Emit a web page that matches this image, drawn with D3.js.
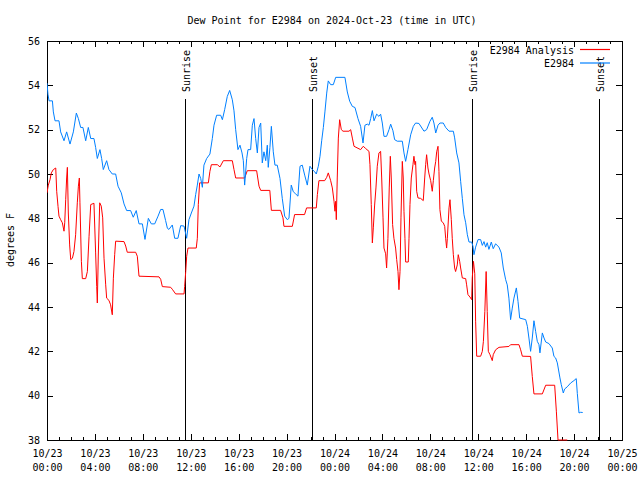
<!DOCTYPE html>
<html>
<head>
<meta charset="utf-8">
<script src="https://cdn.jsdelivr.net/npm/d3@7"></script>
<style>
  html, body { margin: 0; padding: 0; background: #fff; }
  svg { display: block; }
  text { font-family: "DejaVu Sans Mono", monospace; font-size: 10px; fill: #000; }
</style>
</head>
<body>
<script>
// ---- data (hours after 2024-10-23 00:00 UTC, dew point in F) ----
const obsHours = [0.0,0.08,0.17,0.45,0.53,0.67,1.0,1.14,1.42,1.64,1.92,2.2,2.45,2.62,2.81,3.0,3.23,3.45,3.65,3.92,4.06,4.2,4.42,4.56,4.7,4.98,5.17,5.45,5.73,5.93,6.2,6.43,6.65,6.98,7.2,7.45,7.68,7.96,8.18,8.46,8.71,8.99,9.27,9.49,9.68,9.9,
  10.05,10.18,10.46,10.66,10.93,11.16,11.44,11.66,11.85,12.05,12.27,12.41,12.55,12.69,12.83,12.97,13.1,13.33,13.6,13.8,13.94,14.16,14.5,14.64,14.83,15.05,15.25,15.47,15.61,15.75,15.94,16.11,16.28,16.39,16.5,16.67,16.78,17.0,17.14,17.28,17.42,17.56,17.7,17.84,17.97,18.11,18.26,18.39,18.47,18.61,18.73,18.89,19.03,19.22,19.45,19.64,19.84,20.06,
  20.2,20.39,20.56,20.76,20.95,21.12,21.31,21.51,21.73,21.95,22.15,22.35,22.48,22.65,22.79,22.93,23.07,23.2,23.35,23.48,23.68,23.9,24.1,24.87,25.07,25.27,25.49,25.71,25.96,26.18,26.38,26.54,26.74,26.88,27.02,27.16,27.3,27.52,27.71,27.85,27.99,28.13,28.35,28.55,28.69,28.88,29.02,29.24,29.66,29.8,29.94,
  30.13,30.36,30.58,30.77,31.05,31.47,31.69,31.97,32.16,32.3,32.45,32.64,32.8,33.08,33.28,33.56,33.92,34.03,34.2,34.39,34.53,34.67,34.81,34.95,35.09,35.23,35.45,35.56,35.64,35.78,35.98,36.2,36.34,36.48,36.62,36.75,36.89,37.09,37.25,37.45,37.73,37.92,38.09,38.29,38.42,38.56,38.7,38.84,38.98,39.18,39.32,39.46,39.96,
  40.1,40.23,40.37,40.51,40.65,40.79,40.93,41.07,41.15,41.35,41.49,41.63,41.9,42.18,42.32,42.46,42.6,42.82,42.93,43.1,43.21,43.43,43.71,43.99,44.18,44.27,44.41,44.55,44.72];
const obsDew = [54.1,53.6,53.3,53.3,52.8,52.4,52.4,51.9,51.5,51.9,51.35,51.9,52.75,52.5,52.1,52.1,51.5,52.1,51.6,51.6,51.2,50.7,51.1,50.7,50.2,50.6,50.2,50.0,50.0,49.45,49.15,48.65,48.35,48.35,48.05,48.35,47.75,47.75,47.05,48.0,47.75,47.75,48.1,48.4,48.4,47.9,
  47.55,47.5,47.7,47.1,47.1,47.67,47.65,47.1,47.94,48.24,48.55,49.07,49.5,50.0,49.8,49.4,50.4,50.7,50.9,51.6,52.2,52.65,52.65,52.45,52.9,53.5,53.77,53.35,52.85,52.0,51.1,51.3,50.95,50.6,49.5,50.7,51.1,51.1,52.2,52.5,51.6,50.95,52.1,52.3,50.5,51.0,50.6,51.3,50.3,51.2,52.15,51.0,50.4,50.4,49.8,48.9,48.1,47.94,
  48.0,49.5,49.2,49.1,49.0,50.35,50.4,49.95,49.5,50.35,50.2,50.1,50.0,50.35,50.8,51.5,52.1,52.8,53.65,54.2,54.03,54.03,54.36,54.36,53.7,53.28,53.05,53.0,52.5,52.15,51.4,52.2,52.25,52.2,52.5,52.86,52.4,52.7,52.6,52.7,52.3,51.7,51.7,52.0,52.25,51.95,51.55,51.48,51.48,50.95,50.57,
  51.1,51.77,52.15,52.3,52.28,51.93,52.0,52.38,52.56,52.3,51.85,52.2,52.3,52.3,52.1,51.93,51.93,51.63,50.95,50.5,49.67,48.9,48.16,47.8,47.26,46.93,46.93,46.74,46.36,46.7,47.04,47.04,46.78,46.95,46.7,46.9,46.6,46.93,46.63,46.85,46.7,46.44,45.76,45.23,45.0,44.4,43.43,43.95,44.4,44.86,44.25,43.5,43.43,
  43.13,42.6,42.0,42.6,43.38,42.9,42.45,42.3,41.93,42.83,42.6,42.42,42.35,42.15,41.77,41.7,41.48,40.8,40.5,40.12,40.3,40.4,40.57,40.68,40.77,40.1,39.22,39.25,39.24];

const anaHours = [0.0,0.11,0.25,0.36,0.53,0.73,0.81,0.92,1.0,1.14,1.28,1.42,1.48,1.56,1.64,1.7,1.78,1.89,1.98,2.12,2.25,2.39,2.53,2.62,2.7,2.75,2.87,2.95,3.23,3.37,3.51,3.65,3.92,4.06,4.15,4.2,4.28,4.4,4.53,4.65,4.76,4.9,4.98,5.17,5.31,5.45,5.54,5.65,5.73,6.43,6.57,6.7,7.4,7.54,7.68,9.35,9.49,9.63,
  10.32,10.46,10.74,11.44,11.49,11.58,11.66,11.77,12.46,12.55,12.63,12.74,13.47,13.6,13.72,14.22,14.44,14.72,15.47,15.61,15.75,16.5,16.72,17.5,17.7,17.84,18.6,18.73,19.5,19.7,19.78,
  20.48,20.67,21.5,21.67,22.48,22.57,22.7,23.18,23.35,23.48,23.68,23.82,23.96,24.04,24.1,24.15,24.23,24.32,24.43,24.57,24.71,25.21,25.35,25.49,25.63,26.18,26.4,26.6,26.88,26.96,27.07,27.16,27.24,27.35,27.46,27.57,27.71,27.85,27.94,28.05,28.13,28.27,28.35,28.46,28.57,28.66,28.74,28.85,28.96,29.1,29.19,29.3,29.38,29.47,29.55,29.66,29.74,
  29.8,29.88,29.94,30.16,30.22,30.3,30.41,30.55,30.63,30.72,30.77,30.86,30.97,31.19,31.41,31.53,31.61,31.69,31.8,31.89,32.03,32.16,32.25,32.36,32.45,32.53,32.64,32.72,32.8,32.92,33.08,33.2,33.28,33.36,33.42,33.56,33.64,33.75,33.83,33.92,34.03,34.11,34.25,34.33,34.45,34.53,34.67,34.95,35.03,35.14,35.31,35.45,35.5,35.6,35.71,35.78,35.87,36.2,36.34,36.43,36.55,36.66,36.75,36.84,36.98,37.17,37.25,37.45,37.73,38.56,38.7,39.4,39.54,39.68,
  40.37,40.51,40.65,41.35,41.63,42.38,42.52,42.66,43.43];
const anaDew = [49.15,49.5,49.74,50.05,50.2,50.27,49.22,48.54,48.1,47.94,47.8,47.42,47.8,48.84,49.82,50.3,48.24,46.8,46.14,46.2,46.5,47.26,48.7,49.45,49.82,48.7,46.06,45.28,45.28,45.6,47.19,48.62,48.68,46.44,44.93,44.18,46.3,48.7,48.55,48.02,46.2,45.0,44.4,44.3,44.1,43.65,45.3,46.36,46.97,46.95,46.75,46.47,46.47,46.29,45.39,45.36,45.25,44.92,
  44.89,44.8,44.59,44.59,44.93,45.6,46.29,46.66,46.66,47.1,48.62,49.6,49.6,50.12,50.42,50.42,50.32,50.6,50.6,50.2,49.82,49.82,50.15,50.15,49.45,49.26,49.26,48.36,48.36,48.02,47.64,
  47.64,48.17,48.17,48.47,48.47,49.07,49.7,49.7,49.85,50.05,49.7,49.37,48.77,48.32,48.77,47.94,49.82,51.62,52.45,52.0,51.93,51.93,52.0,51.62,51.25,51.1,51.25,51.15,51.02,50.42,48.62,46.89,47.57,48.6,49.37,50.35,50.95,51.02,49.82,48.02,46.66,46.4,45.76,47.1,49.37,50.8,49.82,47.72,47.1,46.66,46.14,45.6,44.78,45.6,48.02,50.57,49.82,
  48.32,47.1,46.03,46.03,47.1,48.62,49.82,50.42,50.8,50.42,50.57,49.22,48.92,48.9,48.8,49.82,50.42,50.87,50.27,50.0,49.7,49.22,49.7,50.27,50.57,51.0,51.25,50.12,48.39,47.87,47.8,47.64,47.1,46.66,47.1,48.47,48.84,47.94,47.1,46.36,45.76,45.6,45.9,46.36,46.06,45.76,45.31,45.28,45.0,44.56,44.45,44.33,45.31,46.06,45.5,43.36,41.78,41.78,42.0,42.45,43.8,45.6,43.8,42.0,41.85,41.58,41.85,42.07,42.18,42.22,42.3,42.3,42.07,41.78,
  41.77,40.87,40.08,40.08,40.47,40.47,39.3,38.0,38.0];

const sunEventHours = [11.48, 22.15, 35.5, 46.12];
const sunEventNames = ["Sunrise", "Sunset", "Sunrise", "Sunset"];
const yTickValues = [38, 40, 42, 44, 46, 48, 50, 52, 54, 56];
const seriesNames = ["E2984 Analysis", "E2984"];
const seriesColors = ["#ff0000", "#0080ff"];
const titleText = "Dew Point for E2984 on 2024-Oct-23 (time in UTC)";
const yLabelText = "degrees F";

// ---- chart ----
const W = 640, H = 480, L = 47, R = 622, T = 41, B = 440;
const t0 = Date.UTC(2024, 9, 23, 0, 0);
const hr = h => new Date(t0 + h * 3600e3);

const x = d3.scaleUtc().domain([hr(0), hr(48)]).range([L, R]);
const y = d3.scaleLinear().domain([38, 56]).range([B, T]);

const svg = d3.select("body").append("svg").attr("width", W).attr("height", H);
svg.append("rect").attr("width", W).attr("height", H).attr("fill", "#fff");

function styleAxis(g) {
  g.select(".domain").remove();
  g.attr("font-family", null).attr("font-size", null);
  g.selectAll("line").attr("stroke", "#000").attr("shape-rendering", "crispEdges");
}

// minor x ticks
svg.append("g").attr("transform", `translate(0,${B})`)
  .call(d3.axisBottom(x).ticks(d3.utcHour.every(1)).tickSize(-3).tickFormat(""))
  .call(styleAxis);
svg.append("g").attr("transform", `translate(0,${T})`)
  .call(d3.axisTop(x).ticks(d3.utcHour.every(1)).tickSize(-3).tickFormat(""))
  .call(styleAxis);
// major x ticks
const xb = svg.append("g").attr("transform", `translate(0,${B})`)
  .call(d3.axisBottom(x).ticks(d3.utcHour.every(4)).tickSize(-6).tickFormat(""))
  .call(styleAxis);
svg.append("g").attr("transform", `translate(0,${T})`)
  .call(d3.axisTop(x).ticks(d3.utcHour.every(4)).tickSize(-6).tickFormat(""))
  .call(styleAxis);
xb.selectAll(".tick text").remove();
xb.selectAll(".tick").each(function(d) {
  const t = d3.select(this).append("text").attr("text-anchor", "middle");
  t.append("tspan").attr("x", 0).attr("y", 17).text(d3.utcFormat("%m/%d")(d));
  t.append("tspan").attr("x", 0).attr("y", 31).text(d3.utcFormat("%H:%M")(d));
});

// y ticks
svg.append("g").attr("transform", `translate(${L},0)`)
  .call(d3.axisLeft(y).tickValues(yTickValues).tickSize(-6).tickPadding(7).tickFormat(d3.format("d")))
  .call(styleAxis);
svg.append("g").attr("transform", `translate(${R},0)`)
  .call(d3.axisRight(y).tickValues(yTickValues).tickSize(-6).tickFormat(""))
  .call(styleAxis);

// frame
svg.append("rect").attr("x", L).attr("y", T).attr("width", R - L).attr("height", B - T)
  .attr("fill", "none").attr("stroke", "#000").attr("shape-rendering", "crispEdges");

// sunrise / sunset
sunEventHours.forEach((h, i) => {
  const px = Math.round(x(hr(h))) + 0.5;
  svg.append("line").attr("x1", px).attr("x2", px).attr("y1", 99).attr("y2", B)
    .attr("stroke", "#000").attr("shape-rendering", "crispEdges");
  svg.append("text").attr("transform", `translate(${px + 4},92) rotate(-90)`)
    .attr("text-anchor", "start").text(sunEventNames[i]);
});

// clip
svg.append("clipPath").attr("id", "plotclip").append("rect")
  .attr("x", L).attr("y", T - 1).attr("width", R - L).attr("height", B - T + 2);

const line = d3.line().x(d => x(hr(d[0]))).y(d => y(d[1]));
const anaData = anaHours.map((h, i) => [h, anaDew[i]]);
const obsData = obsHours.map((h, i) => [h, obsDew[i]]);

svg.append("path").datum(anaData).attr("d", line).attr("clip-path", "url(#plotclip)")
  .attr("fill", "none").attr("stroke", seriesColors[0]).attr("stroke-width", 1);
svg.append("path").datum(obsData).attr("d", line).attr("clip-path", "url(#plotclip)")
  .attr("fill", "none").attr("stroke", seriesColors[1]).attr("stroke-width", 1);

// legend
seriesNames.forEach((name, i) => {
  const ly = 49.5 + i * 13.5;
  svg.append("text").attr("x", 574).attr("y", ly + 4).attr("text-anchor", "end").text(name);
  svg.append("path").attr("d", `M580,${ly}H610`)
    .attr("fill", "none").attr("stroke", seriesColors[i]).attr("stroke-width", 1.2);
});

// title & y label
svg.append("text").attr("x", 332).attr("y", 24).attr("text-anchor", "middle").text(titleText);
svg.append("text").attr("transform", "translate(14,240) rotate(-90)")
  .attr("text-anchor", "middle").text(yLabelText);
</script>
</body>
</html>
